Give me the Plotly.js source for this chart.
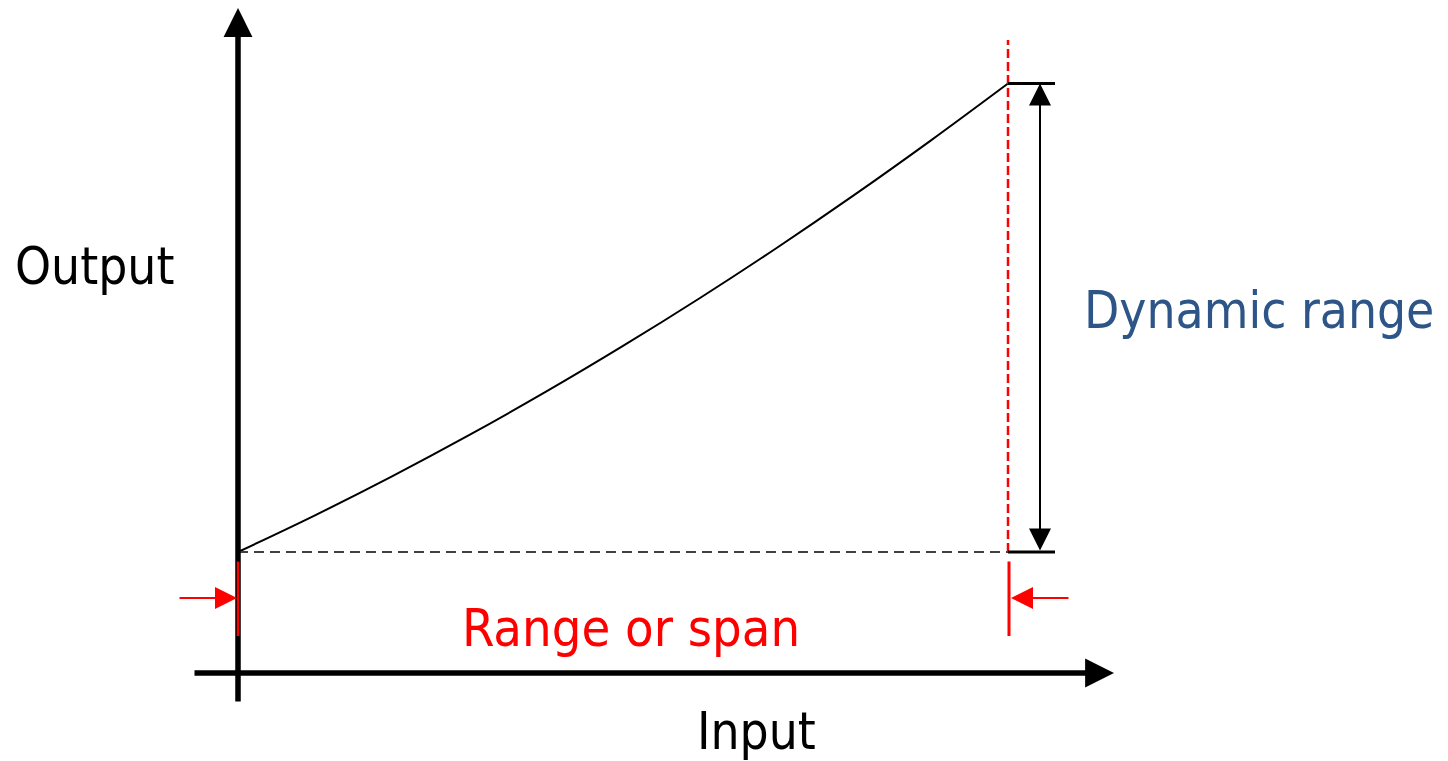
<!DOCTYPE html>
<html>
<head>
<meta charset="utf-8">
<script src="https://cdn.plot.ly/plotly-3.0.1.min.js"></script>
<style>html,body{margin:0;padding:0;background:#fff;}#chart{width:1448px;height:761px;}</style>
</head>
<body>
<div id="chart"></div>
<script>
// ---- data (normalised input / output of the sensor characteristic) ----
const inputValues  = [0, 0.1, 0.2, 0.3, 0.4, 0.5, 0.6, 0.7, 0.8, 0.9, 1.0];
const outputValues = [0, 0.0783, 0.1614, 0.2493, 0.3421, 0.4398, 0.5422, 0.6495, 0.7617, 0.8787, 1.0];
const axisLabels = ["Input", "Output"];
const rangeLabel = "Range or span";
const dynLabel = "Dynamic range";

// ---- layout helpers: map pixel anchors of the figure to data units ----
const W = 1448, H = 761;
const X0 = 238, X1 = 1008, Y0 = 552, Y1 = 83.5;
const fx = p => (p - X0) / (X1 - X0);
const fy = p => (Y0 - p) / (Y0 - Y1);

const FONT = "DejaVu Sans Condensed, DejaVu Sans, sans-serif";

const curve = {
  x: inputValues, y: outputValues, type: "scatter", mode: "lines",
  line: {color: "#000", width: 2, shape: "spline"}, hoverinfo: "skip"
};

const xmin = inputValues[0], xmax = inputValues[inputValues.length - 1];
const ymin = outputValues[0], ymax = outputValues[outputValues.length - 1];

const shapes = [
  // dashed baseline (output at minimum input)
  {type: "line", xref: "x", yref: "y", x0: xmin, x1: xmax, y0: ymin, y1: ymin,
   line: {color: "#404040", width: 2, dash: "10px,6px"}},
  // red dashed vertical at max input
  {type: "line", xref: "x", yref: "y", x0: xmax, x1: xmax, y0: ymin, y1: fy(40),
   line: {color: "#ff0000", width: 2.5, dash: "9px,4px"}},
  // tick lines of dynamic range
  {type: "line", xref: "x", yref: "y", x0: xmax, x1: fx(1055), y0: ymax, y1: ymax,
   line: {color: "#000", width: 3}},
  {type: "line", xref: "x", yref: "y", x0: xmax, x1: fx(1055), y0: ymin, y1: ymin,
   line: {color: "#000", width: 3}}
];

function arrow(x0, y0, x1, y1, color, width, head, size, extra) {
  return Object.assign({
    xref: "x", yref: "y", axref: "x", ayref: "y",
    x: x1, y: y1, ax: x0, ay: y0, text: "", showarrow: true,
    arrowcolor: color, arrowwidth: width, arrowhead: head, arrowsize: size,
    standoff: 0, startstandoff: 0
  }, extra || {});
}

const annotations = [
  // axes
  arrow(xmin, fy(703), xmin, fy(8), "#000", 5.5, 2, 1.05),
  arrow(fx(193), fy(673), fx(1114), fy(673), "#000", 5.5, 2, 1.05),
  // dynamic range double arrow
  arrow(fx(1040), ymin, fx(1040), ymax, "#000", 2, 2, 2.2,
        {arrowside: "end+start", startarrowhead: 2, startarrowsize: 2.2}),
  // range arrows
  arrow(fx(178), fy(598), fx(237), fy(598), "#ff0000", 2, 2, 2.2),
  arrow(fx(1070), fy(598), fx(1011), fy(598), "#ff0000", 2, 2, 2.2),
  // red range limit lines
  arrow(xmin, fy(560), xmin, fy(636), "#ff0000", 2.5, 0, 1),
  arrow(fx(1009), fy(560), fx(1009), fy(636), "#ff0000", 3, 0, 1),
  // texts
  {xref: "x", yref: "y", x: fx(13), y: fy(266), xanchor: "left", yanchor: "middle",
   text: axisLabels[1], showarrow: false, font: {family: FONT, size: 51, color: "#000"}},
  {xref: "x", yref: "y", x: fx(1082), y: fy(310), xanchor: "left", yanchor: "middle",
   text: dynLabel, showarrow: false, font: {family: FONT, size: 51, color: "#2d5588"}},
  {xref: "x", yref: "y", x: fx(460), y: fy(628), xanchor: "left", yanchor: "middle",
   text: rangeLabel, showarrow: false, font: {family: FONT, size: 52, color: "#ff0000"}},
  {xref: "x", yref: "y", x: fx(695), y: fy(731), xanchor: "left", yanchor: "middle",
   text: axisLabels[0], showarrow: false, font: {family: FONT, size: 51, color: "#000"}}
];

const layout = {
  width: W, height: H,
  margin: {l: 0, r: 0, t: 0, b: 0, pad: 0},
  paper_bgcolor: "#fff", plot_bgcolor: "#fff",
  showlegend: false,
  xaxis: {range: [fx(0), fx(W)], visible: false, fixedrange: true},
  yaxis: {range: [fy(H), fy(0)], visible: false, fixedrange: true},
  shapes: shapes, annotations: annotations
};

Plotly.newPlot("chart", [curve], layout, {staticPlot: true, displayModeBar: false});
</script>
</body>
</html>
